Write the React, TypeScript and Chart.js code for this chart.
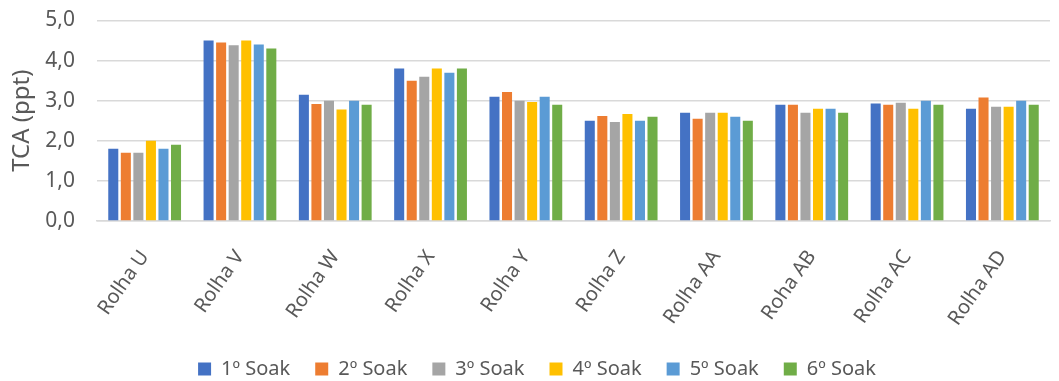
import React, { useEffect, useRef } from "react";
import { Chart, registerables } from "chart.js";

Chart.register(...registerables);

const categories = [
  "Rolha U", "Rolha V", "Rolha W", "Rolha X", "Rolha Y",
  "Rolha Z", "Rolha AA", "Roha AB", "Rolha AC", "Rolha AD",
];
const seriesNames = ["1º Soak", "2º Soak", "3º Soak", "4º Soak", "5º Soak", "6º Soak"];
const soak1 = [1.8, 4.5, 3.15, 3.8, 3.1, 2.5, 2.7, 2.9, 2.93, 2.8];
const soak2 = [1.7, 4.45, 2.92, 3.5, 3.22, 2.62, 2.55, 2.9, 2.9, 3.08];
const soak3 = [1.7, 4.38, 3.0, 3.6, 3.0, 2.47, 2.7, 2.7, 2.95, 2.85];
const soak4 = [2.0, 4.5, 2.78, 3.8, 2.97, 2.67, 2.7, 2.8, 2.8, 2.85];
const soak5 = [1.8, 4.4, 3.0, 3.7, 3.1, 2.5, 2.6, 2.8, 3.0, 3.0];
const soak6 = [1.9, 4.3, 2.9, 3.8, 2.9, 2.6, 2.5, 2.7, 2.9, 2.9];
const colors = ["#4472C4", "#ED7D31", "#A5A5A5", "#FFC000", "#5B9BD5", "#70AD47"];
const yTicks = [0, 1, 2, 3, 4, 5];

const FONT = "'Noto Sans', 'Open Sans', sans-serif";
const TEXT = "#595959";

const legendFix = {
  id: "legendFix",
  beforeLayout(chart: any) {
    const lg = chart.legend;
    if (lg && !lg.__patched) {
      const orig = lg.fit.bind(lg);
      lg.fit = () => {
        orig();
        lg.height = 47;
      };
      lg.__patched = true;
    }
  },
  afterLayout(chart: any) {
    const lg = chart.legend;
    if (lg) lg.left += 24;
  },
};

export default function App() {
  const ref = useRef<HTMLCanvasElement | null>(null);
  useEffect(() => {
    document.body.style.margin = "0";
    const all = [soak1, soak2, soak3, soak4, soak5, soak6];
    const chart = new Chart(ref.current as HTMLCanvasElement, {
      type: "bar",
      data: {
        labels: categories,
        datasets: all.map((d, i) => ({
          label: seriesNames[i],
          data: d,
          backgroundColor: colors[i],
          borderWidth: 0,
          barPercentage: 0.8,
          categoryPercentage: 0.79,
        })),
      },
      plugins: [legendFix],
      options: {
        animation: false,
        responsive: false,
        layout: { padding: { top: 0, right: 9, left: 0, bottom: 0 } },
        plugins: {
          tooltip: { enabled: false },
          legend: {
            position: "bottom",
            labels: {
              boxWidth: 13,
              boxHeight: 13,
              padding: 25,
              color: TEXT,
              font: { family: FONT, size: 20 },
            },
          },
        },
        scales: {
          x: {
            grid: { display: false, drawTicks: false },
            border: { color: "#D9D9D9", width: 1.5 },
            ticks: {
              color: TEXT,
              font: { family: FONT, size: 20 },
              minRotation: 55,
              maxRotation: 55,
              padding: 25,
            },
            afterFit: (s: any) => { s.height = 113; },
          },
          y: {
            min: 0,
            max: 5,
            afterBuildTicks: (s: any) => { s.ticks = yTicks.map((v) => ({ value: v })); },
            grid: { color: "#D9D9D9", lineWidth: 1.5, drawTicks: false },
            border: { display: false },
            ticks: {
              color: TEXT,
              font: { family: FONT, size: 21 },
              padding: 22,
              callback: (v: any) => Number(v).toFixed(1).replace(".", ","),
            },
            title: {
              display: true,
              text: "TCA (ppt)",
              color: TEXT,
              font: { family: FONT, size: 24 },
              padding: { top: 8, bottom: 0 },
            },
            afterFit: (s: any) => {
              s.width = 97;
              s.paddingTop = 20.5;
              s.paddingBottom = 12;
            },
          },
        },
      },
    });
    return () => chart.destroy();
  }, []);
  return <canvas ref={ref} width={1059} height={381} style={{ display: "block" }} />;
}
